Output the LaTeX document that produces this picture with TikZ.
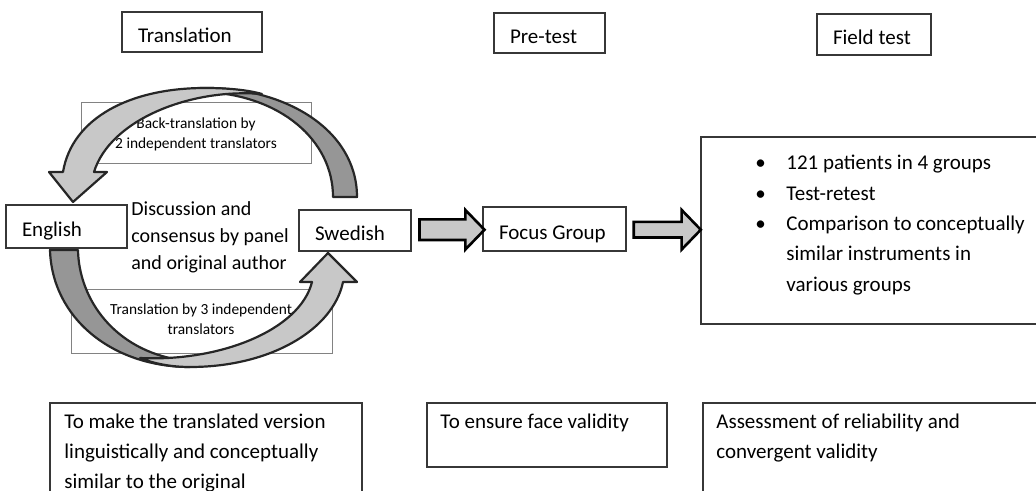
\documentclass[tikz,border=0pt]{standalone}
\usepackage{fontspec}
\setmainfont{Carlito}
\usetikzlibrary{shapes.arrows,calc}

\definecolor{arrowlight}{RGB}{200,200,200}
\definecolor{arrowdark}{RGB}{150,150,150}
\definecolor{boxline}{RGB}{55,55,55}
\definecolor{noteline}{RGB}{130,130,130}

\newcommand{\listdot}{\makebox[15.5pt][l]{\textbullet}}

\tikzset{
	box/.style={draw=boxline, line width=0.8pt, inner xsep=8pt, inner ysep=0pt, align=flush left, text height=1.1em, text depth=0.08em, font=\fontsize{10.5}{15}\selectfont},
	frame/.style={draw=boxline, line width=0.8pt, inner sep=0pt},
	noteframe/.style={draw=noteline, line width=0.5pt, inner sep=0pt},
	plaintext/.style={anchor=north west, inner sep=0pt, align=left, font=\fontsize{10.5}{15}\selectfont},
	notetext/.style={anchor=north, inner sep=0pt, align=center, font=\fontsize{7.7}{10}\selectfont},
	blockarrow/.style={single arrow, draw=black, line width=1.3pt, fill=arrowlight, single arrow tip angle=92},
	curveddark/.style={draw=black!85, line width=1.1pt, line join=round, fill=arrowdark},
	curvedlight/.style={draw=black!85, line width=1.1pt, line join=round, fill=arrowlight}
}

\begin{document}
\begin{tikzpicture}[x=0.5pt, y=-0.5pt]
	\useasboundingbox (0,0) rectangle (1036,491);
	\clip (0,0) rectangle (1036,491);

	% (1) Translation
	\node[box, text width=54pt, minimum height=20pt] (ttrans) at (192,32) {Translation};

	\node[noteframe, minimum width=115pt, minimum height=30.5pt] (backbox) at (196,133.5) {};
	\node[notetext] (backtext) at (196,117) {Back-translation by\\2 independent translators};
	\node[noteframe, minimum width=130.5pt, minimum height=32pt] (forwbox) at (201.5,321) {};
	\node[notetext] (forwtext) at (201,303) {Translation by 3 independent\\translators};

	% back-translation arrow
	\draw[curveddark] (200,88) .. controls (285,86) and (357,130) .. (357,197) -- (333,197)
		.. controls (333,140) and (280,95) .. (205,92) -- cycle;
	\draw[curvedlight] (63,172) .. controls (72,118) and (130,88) .. (205,88)
		.. controls (228,88) and (248,90) .. (262,94)
		.. controls (190,88) and (110,120) .. (94,172) -- (107,172) -- (73,202) -- (49,172) -- cycle;

	% translation arrow
	\draw[curveddark] (50,250) .. controls (52,318) and (112,367) .. (190,367) -- (180,360)
		.. controls (115,350) and (79,300) .. (78,250) -- cycle;
	\draw[curvedlight] (140,358) .. controls (155,364) and (172,367) .. (190,367)
		.. controls (270,367) and (333,330) .. (343,282) -- (357,282) -- (328,253) -- (300,282) -- (312,282)
		.. controls (300,330) and (220,362) .. (140,358) -- cycle;

	\node[box, text width=44.5pt, minimum height=21.5pt] (english) at (66.5,226.5) {English};
	\node[box, text width=40pt, minimum height=20.5pt] (swedish) at (355,230.5) {Swedish};
	\node[plaintext, font=\fontsize{10}{13.5}\selectfont] (panel) at (131,201) {Discussion and\\consensus by panel\\and original author};

	\node[frame, minimum width=156pt, minimum height=58.5pt] (aimtransbox) at (206,461.5) {};
	\node[plaintext] (aimtrans) at (64,414) {To make the translated version\\linguistically and conceptually\\similar to the original};

	% (2) Pre-test
	\node[box, text width=39.5pt, minimum height=20pt] (tpre) at (549.5,33) {Pre-test};
	\node[box, text width=55.5pt, minimum height=22pt] (focus) at (554.5,229) {Focus Group};
	\node[blockarrow, minimum height=32.5pt, inner sep=4.5pt, single arrow head extend=4.75pt] (arrowfocus) at ($(swedish.east)!0.5!(focus.west)$) {};

	\node[frame, minimum width=120pt, minimum height=32pt] (aimprebox) at (547,435) {};
	\node[plaintext] (aimpre) at (440,414) {To ensure face validity};

	% (3) Field test
	\node[box, text width=41pt, minimum height=20.5pt] (tfield) at (874,34.5) {Field test};
	\node[frame, minimum width=169.5pt, minimum height=93.5pt] (fieldbox) at (870.5,230.5) {};
	\node[plaintext, font=\fontsize{10.5}{15.15}\selectfont] (fieldlist) at (755,155) {\listdot121 patients in 4 groups\\\listdot Test-retest\\\listdot Comparison to conceptually\\\hspace*{15.5pt}similar instruments in\\\hspace*{15.5pt}various groups};
	\node[blockarrow, minimum height=33.5pt, inner sep=3.25pt, single arrow head extend=6pt] (arrowfield) at ($(focus.east)!0.5!(fieldbox.west)$) {};

	\node[frame, minimum width=168.5pt, minimum height=58.5pt] (aimfieldbox) at (871.5,461.5) {};
	\node[plaintext] (aimfield) at (716,414) {Assessment of reliability and\\convergent validity};
\end{tikzpicture}
\end{document}
